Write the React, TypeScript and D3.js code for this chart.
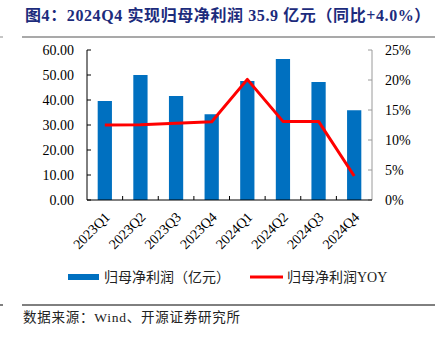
import React from "react";
import * as d3 from "d3";

const categories = ["2023Q1", "2023Q2", "2023Q3", "2023Q4", "2024Q1", "2024Q2", "2024Q3", "2024Q4"];
const profit = [39.6, 50.0, 41.6, 34.3, 47.6, 56.4, 47.2, 35.9];
const yoy = [12.5, 12.55, 12.8, 13.05, 20.1, 13.1, 13.1, 4.0];
const leftTicks = [0, 10, 20, 30, 40, 50, 60];
const rightTicks = [0, 5, 10, 15, 20, 25];

const W = 435, H = 338;
const plot = { left: 87, right: 372, top: 50, bottom: 200 };
const serif = "'Liberation Serif', 'Times New Roman', 'Noto Sans CJK SC', serif";
const cjk = "'Liberation Serif', 'Noto Sans CJK SC', sans-serif";

export default function App() {
  const x = d3.scaleBand<string>().domain(categories).range([plot.left, plot.right]).paddingInner(0).paddingOuter(0);
  const yL = d3.scaleLinear().domain([0, 60]).range([plot.bottom, plot.top]);
  const yR = d3.scaleLinear().domain([0, 25]).range([plot.bottom, plot.top]);
  const bw = x.bandwidth() * 0.4;
  const line = d3.line<number>().x((_, i) => (x(categories[i]) as number) + x.bandwidth() / 2).y((d) => yR(d));

  return (
    <svg width={W} height={H} style={{ position: "absolute", left: 0, top: 0 }}>
      <rect x={0} y={0} width={W} height={H} fill="#fff" />
      <text x={25} y={21} fontSize={16} fontWeight="bold" fill="#1c2b7c" fontFamily={cjk} letterSpacing={0.6}>
        图4：2024Q4 实现归母净利润 35.9 亿元（同比+4.0%）
      </text>
      <line x1={22} x2={W} y1={37} y2={37} stroke="#8c8c8c" strokeWidth={1.5} />
      <line x1={0} x2={3} y1={37} y2={37} stroke="#8c8c8c" strokeWidth={1} />

      {profit.map((v, i) => {
        const cx = (x(categories[i]) as number) + x.bandwidth() / 2;
        return <rect key={i} x={cx - bw / 2} y={yL(v)} width={bw} height={plot.bottom - yL(v)} fill="#0070c0" />;
      })}

      {/* left axis */}
      <line x1={plot.left} x2={plot.left} y1={plot.top} y2={plot.bottom} stroke="#000" strokeWidth={1} />
      {leftTicks.map((t) => (
        <g key={t}>
          <line x1={plot.left} x2={plot.left + 4} y1={yL(t)} y2={yL(t)} stroke="#000" />
          <text x={74} y={yL(t)} dy="0.35em" textAnchor="end" fontSize={14} fontFamily={serif} fill="#000">
            {t.toFixed(2)}
          </text>
        </g>
      ))}
      {/* right axis */}
      <line x1={plot.right} x2={plot.right} y1={plot.top} y2={plot.bottom} stroke="#9a9a9a" strokeWidth={1} />
      {rightTicks.map((t) => (
        <g key={t}>
          <line x1={plot.right - 4} x2={plot.right} y1={yR(t)} y2={yR(t)} stroke="#9a9a9a" />
          <text x={385} y={yR(t)} dy="0.35em" textAnchor="start" fontSize={14} fontFamily={serif} fill="#000">
            {t}%
          </text>
        </g>
      ))}
      {/* bottom axis */}
      <line x1={plot.left} x2={plot.right} y1={plot.bottom} y2={plot.bottom} stroke="#000" strokeWidth={1} />
      {categories.slice(1).map((c) => (
        <line key={c} x1={x(c) as number} x2={x(c) as number} y1={plot.bottom} y2={plot.bottom - 4} stroke="#000" />
      ))}
      {categories.map((c) => {
        const cx = (x(c) as number) + x.bandwidth() / 2 + 6;
        const cy = 218;
        return (
          <text key={c} x={cx} y={cy} textAnchor="end" fontSize={14} fontFamily={serif} fill="#000" transform={`rotate(-45 ${cx} ${cy})`}>
            {c}
          </text>
        );
      })}

      <path d={line(yoy) as string} fill="none" stroke="#ff0000" strokeWidth={3} strokeLinejoin="round" />

      {/* legend */}
      <rect x={68} y={274} width={31} height={6} fill="#0070c0" />
      <text x={104} y={277} dy="0.35em" fontSize={14} fontFamily={cjk} fill="#222">归母净利润（亿元）</text>
      <line x1={250} x2={283} y1={277} y2={277} stroke="#ff0000" strokeWidth={3} />
      <text x={287} y={277} dy="0.35em" fontSize={14} fontFamily={cjk} fill="#222">归母净利润YOY</text>

      <line x1={22} x2={W} y1={305} y2={305} stroke="#000" strokeWidth={1} />
      <line x1={0} x2={3} y1={305} y2={305} stroke="#000" strokeWidth={1} />
      <text x={23} y={317} dy="0.35em" fontSize={13.5} fontFamily={cjk} fill="#222" letterSpacing={0.75}>数据来源：Wind、开源证券研究所</text>
    </svg>
  );
}
